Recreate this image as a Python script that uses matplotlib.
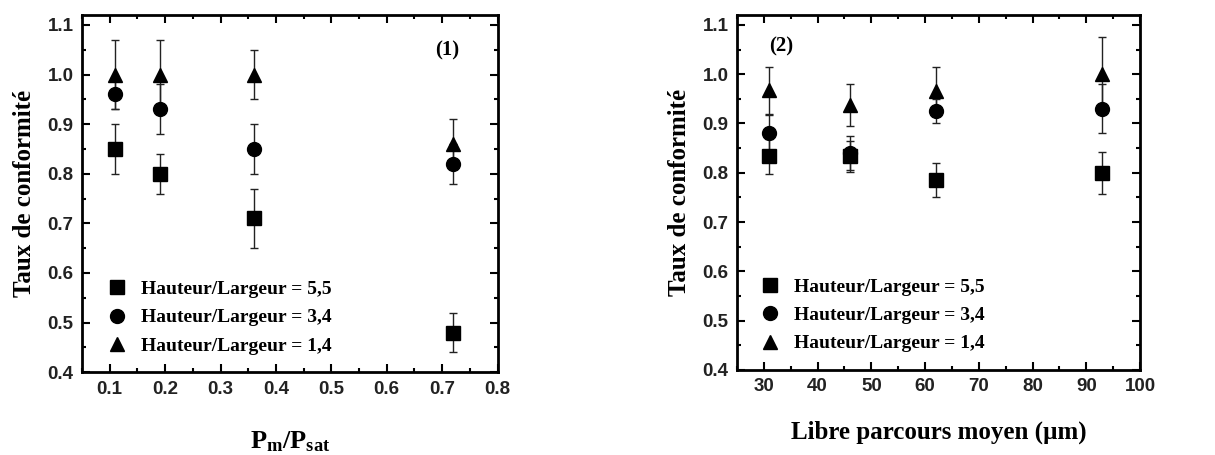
import matplotlib.pyplot as plt
from matplotlib.ticker import MultipleLocator
from matplotlib.lines import Line2D

plt.rcParams['mathtext.fontset'] = 'custom'
plt.rcParams['mathtext.rm'] = 'Liberation Serif:bold'
plt.rcParams['mathtext.bf'] = 'Liberation Serif:bold'
plt.rcParams['mathtext.it'] = 'Liberation Serif:bold'

# panneau (1) : P_m / P_sat
x1 = [0.11, 0.19, 0.36, 0.72]
carre1 = [0.85, 0.80, 0.71, 0.48]
carre1_err = [0.05, 0.04, 0.06, 0.04]
rond1 = [0.96, 0.93, 0.85, 0.82]
rond1_err = [0.03, 0.05, 0.05, 0.04]
tri1 = [1.00, 1.00, 1.00, 0.86]
tri1_err = [0.07, 0.07, 0.05, 0.05]

# panneau (2) : libre parcours moyen
x2 = [31, 46, 62, 93]
carre2 = [0.833, 0.833, 0.785, 0.80]
carre2_err = [0.036, 0.032, 0.035, 0.043]
rond2 = [0.88, 0.84, 0.925, 0.93]
rond2_err = [0.037, 0.035, 0.025, 0.05]
tri2 = [0.967, 0.937, 0.965, 1.00]
tri2_err = [0.048, 0.043, 0.05, 0.075]

legendes = ['Hauteur/Largeur = 5,5', 'Hauteur/Largeur = 3,4', 'Hauteur/Largeur = 1,4']
marqueurs = ['s', 'o', '^']

serif = 'Liberation Serif'
sans = 'Liberation Sans'

fig = plt.figure(figsize=(12.15, 4.55), dpi=100)
ax1 = fig.add_axes([0.0675, 0.182, 0.342, 0.785])
ax2 = fig.add_axes([0.6066, 0.187, 0.3317, 0.780])


def tracer(ax, x, series, erreurs, ancre):
    for y, e, m in zip(series, erreurs, marqueurs):
        ax.errorbar(x, y, yerr=e, fmt=m, color='black', ms=10, ecolor='#222222',
                    elinewidth=1, capsize=3, capthick=1)
    ax.set_ylim(0.4, 1.12)
    ax.yaxis.set_major_locator(MultipleLocator(0.1))
    ax.yaxis.set_minor_locator(MultipleLocator(0.05))
    ax.tick_params(which='both', direction='in', top=True, right=True, width=1.5)
    ax.tick_params(which='major', length=6, pad=6)
    ax.tick_params(which='minor', length=3)
    for s in ax.spines.values():
        s.set_linewidth(2)
    for t in ax.get_xticklabels() + ax.get_yticklabels():
        t.set_fontfamily(sans)
        t.set_fontweight('bold')
        t.set_fontsize(13.5)
        t.set_color('#222222')
    ax.set_ylabel('Taux de conformité', family=serif, weight='bold', fontsize=18, labelpad=8)
    poignees = [Line2D([], [], ls='none', marker=m, color='black', ms=10) for m in marqueurs]
    ax.legend(poignees, legendes, loc='lower left', bbox_to_anchor=ancre, frameon=False,
              prop={'family': serif, 'weight': 'bold', 'size': 14},
              handletextpad=0.6, labelspacing=0.55, handlelength=1.2)


ax1.set_xlim(0.05, 0.8)
ax1.xaxis.set_major_locator(MultipleLocator(0.1))
ax1.xaxis.set_minor_locator(MultipleLocator(0.05))
tracer(ax1, x1, [carre1, rond1, tri1], [carre1_err, rond1_err, tri1_err], (0.015, 0.0))
ax1.set_xlabel(r'$\mathbf{P_{m}/P_{sat}}$', fontsize=19, labelpad=22)
ax1.text(0.88, 0.9, '(1)', transform=ax1.transAxes, ha='center', va='center',
         family=serif, weight='bold', fontsize=15)

ax2.set_xlim(25, 100)
ax2.xaxis.set_major_locator(MultipleLocator(10))
ax2.xaxis.set_minor_locator(MultipleLocator(5))
tracer(ax2, x2, [carre2, rond2, tri2], [carre2_err, rond2_err, tri2_err], (0.01, 0.0))
ax2.set_xlabel('Libre parcours moyen (µm)', family=serif, weight='bold', fontsize=18, labelpad=18)
ax2.text(0.11, 0.91, '(2)', transform=ax2.transAxes, ha='center', va='center',
         family=serif, weight='bold', fontsize=15)

fig.savefig('out.png', dpi=100)
